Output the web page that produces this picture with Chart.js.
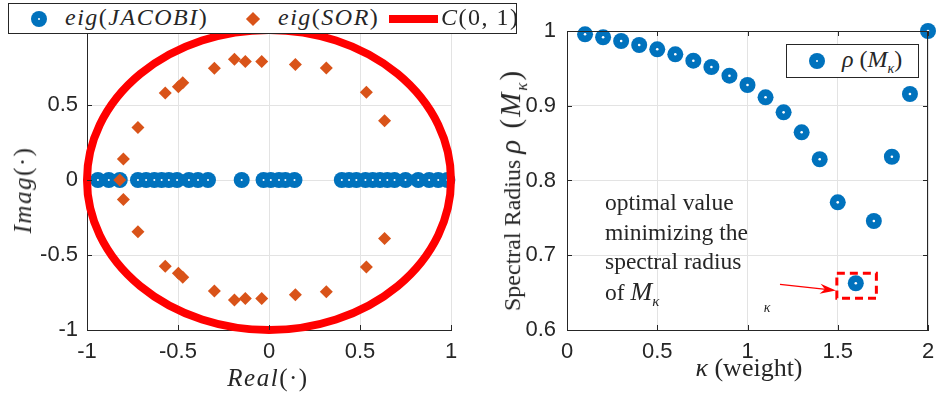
<!DOCTYPE html>
<html>
<head>
<meta charset="utf-8">
<script src="https://cdn.jsdelivr.net/npm/chart.js@4.4.1/dist/chart.umd.min.js"></script>
<style>
  body { margin: 0; background: #fff; width: 936px; height: 396px; overflow: hidden; position: relative; }
  canvas { position: absolute; top: 0; }
  .lbl { position: absolute; white-space: nowrap; color: #262626; font-family: "Liberation Serif", serif; }
  .ctr { transform: translate(-50%, -50%); }
  .rot { transform: translate(-50%, -50%) rotate(-90deg); }
  .it { font-style: italic; }
  .legend { position: absolute; background: #fff; border: 1px solid #262626; }
  .dot { position: absolute; width: 16px; height: 16px; border-radius: 50%; background: #0072BD; }
  .dot::after { content: ""; position: absolute; left: 7px; top: 7px; width: 2px; height: 2px; background: #fff; border-radius: 50%; }
  .m { letter-spacing: 1.5px; }
</style>
</head>
<body>
<canvas id="js--chart--1" width="468" height="396" style="left:0"></canvas>
<canvas id="js--chart--2" width="468" height="396" style="left:468px"></canvas>

<!-- legenda links -->
<div class="legend" style="left:8px;top:3px;width:507px;height:29px">
  <div class="dot" style="left:22px;top:7px"></div>
  <div class="lbl m" style="left:56px;top:0px;font-size:24px"><span class="it">eig</span>(<span class="it">JACOBI</span>)</div>
  <div style="position:absolute;left:239px;top:10px;width:10px;height:10px;background:#D95319;transform:rotate(45deg)"></div>
  <div class="lbl m" style="left:269px;top:0px;font-size:24px"><span class="it">eig</span>(<span class="it">SOR</span>)</div>
  <div style="position:absolute;left:380px;top:11px;width:49px;height:8px;background:#f00"></div>
  <div class="lbl m" style="left:432px;top:0px;font-size:24px"><span class="it">C</span>(0, 1)</div>
</div>

<!-- legenda rechts -->
<div class="legend" style="left:786px;top:44px;width:131px;height:32px">
  <div class="dot" style="left:22px;top:8px"></div>
  <div class="lbl" style="left:55px;top:1px;font-size:24px"><span class="it">ρ</span> (<span class="it">M<sub style="font-size:14px">κ</sub></span>)</div>
</div>

<!-- as titels -->
<div class="lbl rot m" style="left:23px;top:190px;font-size:25px"><span class="it">Imag</span>(·)</div>
<div class="lbl ctr m" style="left:268px;top:378px;font-size:25px"><span class="it">Real</span>(·)</div>
<div class="lbl ctr" style="left:749px;top:368px;font-size:26px"><span class="it">κ</span> (weight)</div>
<div class="lbl rot" style="left:513px;top:190px;font-size:24px">Spectral Radius <span style="font-size:29px;letter-spacing:2px"><span class="it">ρ</span> (<span class="it">M<sub style="font-size:17px">κ</sub></span>)</span></div>

<!-- annotatie -->
<div class="lbl" style="left:605px;top:188px;font-size:23.5px;line-height:29.5px">optimal value<br>minimizing the<br>spectral radius<br>of <span class="it" style="font-size:26px">M<sub style="font-size:15px">κ</sub></span></div>
<div class="lbl it ctr" style="left:767px;top:308px;font-size:14px">κ</div>

<script>
// eigenwaarden links
const jacobiReal = [-0.94, -0.88, -0.82, -0.72, -0.675, -0.63, -0.59, -0.55, -0.505, -0.44, -0.39, -0.335,
    -0.15, -0.03, 0.01, 0.055, 0.09, 0.14,
    0.40, 0.44, 0.48, 0.53, 0.57, 0.61, 0.65, 0.69, 0.75, 0.82, 0.88, 0.93, 0.98];
const jacobiImag = [0, 0, 0, 0, 0, 0, 0, 0, 0, 0, 0, 0,
    0, 0, 0, 0, 0, 0,
    0, 0, 0, 0, 0, 0, 0, 0, 0, 0, 0, 0, 0];

const sorReal = [-0.82,
    -0.80, -0.72, -0.57, -0.498, -0.474, -0.30, -0.19, -0.13, -0.04, 0.145, 0.315, 0.535, 0.635,
    -0.80, -0.72, -0.57, -0.498, -0.474, -0.30, -0.19, -0.13, -0.04, 0.145, 0.315, 0.535, 0.635];
const sorImag = [0,
    0.14, 0.35, 0.58, 0.622, 0.649, 0.745, 0.805, 0.79, 0.79, 0.77, 0.747, 0.585, 0.395,
    -0.13, -0.345, -0.575, -0.622, -0.649, -0.74, -0.80, -0.79, -0.79, -0.765, -0.745, -0.58, -0.39];

// eenheidscirkel C(0,1)
const circleCenter = [0, 0];
const circleRadius = 1;

// rechts: spectrale straal
const kappa = [0.1, 0.2, 0.3, 0.4, 0.5, 0.6, 0.7, 0.8, 0.9, 1.0,
    1.1, 1.2, 1.3, 1.4, 1.5, 1.6, 1.7, 1.8, 1.9, 2.0];
const rho = [0.9956, 0.9916, 0.9866, 0.9813, 0.9755, 0.9688, 0.9603, 0.9518, 0.9402, 0.9278,
    0.9113, 0.8912, 0.8645, 0.8284, 0.7708, 0.6625, 0.7458, 0.8318, 0.9157, 1.0];

const ticksLeftX = [-1, -0.5, 0, 0.5, 1];
const ticksRightX = [0, 0.5, 1, 1.5, 2];
const ticksRightY = [0.6, 0.7, 0.8, 0.9, 1];

// rode kader + pijl (in data coordinaten)
const boxX = [1.495, 1.714];
const boxY = [0.6424, 0.676];
const arrowFrom = [1.18, 0.661];
const arrowTo = [1.49, 0.653];

const blue = '#0072BD';
const orange = '#D95319';
const axisColor = '#262626';
const gridColor = '#e3e3e3';

function pts(xs, ys) {
    return xs.map((x, i) => ({x: x, y: ys[i]}));
}

const tickFont = {family: 'Liberation Sans', size: 22};

// kleine streepjes naar binnen, zoals matlab
function innerTicks(box) {
    return {
        id: 'innerTicks',
        afterDraw(chart) {
            const ctx = chart.ctx, a = chart.chartArea;
            const sx = chart.scales.x, sy = chart.scales.y;
            ctx.save();
            ctx.strokeStyle = axisColor;
            ctx.lineWidth = 1;
            ctx.beginPath();
            sx.ticks.forEach(t => {
                const p = Math.round(sx.getPixelForValue(t.value)) + 0.5;
                ctx.moveTo(p, a.bottom); ctx.lineTo(p, a.bottom - 5);
                if (box) { ctx.moveTo(p, a.top); ctx.lineTo(p, a.top + 5); }
            });
            sy.ticks.forEach(t => {
                const p = Math.round(sy.getPixelForValue(t.value)) + 0.5;
                ctx.moveTo(a.left, p); ctx.lineTo(a.left + 5, p);
                if (box) { ctx.moveTo(a.right, p); ctx.lineTo(a.right - 5, p); }
            });
            if (box) {
                ctx.moveTo(a.left, a.top + 0.5); ctx.lineTo(a.right, a.top + 0.5);
                ctx.moveTo(a.right - 0.5, a.top); ctx.lineTo(a.right - 0.5, a.bottom);
            }
            ctx.stroke();
            ctx.restore();
        }
    };
}

const circlePlugin = {
    id: 'circle',
    afterDatasetsDraw(chart) {
        const ctx = chart.ctx, sx = chart.scales.x, sy = chart.scales.y;
        const cx = sx.getPixelForValue(circleCenter[0]);
        const cy = sy.getPixelForValue(circleCenter[1]);
        const rx = sx.getPixelForValue(circleCenter[0] + circleRadius) - cx;
        const ry = cy - sy.getPixelForValue(circleCenter[1] + circleRadius);
        ctx.save();
        ctx.strokeStyle = '#ff0000';
        ctx.lineWidth = 8;
        ctx.beginPath();
        ctx.ellipse(cx, cy, rx, ry, 0, 0, Math.PI * 2);
        ctx.stroke();
        ctx.restore();
    }
};

const markPlugin = {
    id: 'mark',
    afterDatasetsDraw(chart) {
        const ctx = chart.ctx, sx = chart.scales.x, sy = chart.scales.y;
        ctx.save();
        ctx.strokeStyle = '#ff0000';
        ctx.fillStyle = '#ff0000';
        // gestippelde kader
        ctx.lineWidth = 3;
        ctx.setLineDash([8, 5]);
        const x0 = sx.getPixelForValue(boxX[0]), x1 = sx.getPixelForValue(boxX[1]);
        const y0 = sy.getPixelForValue(boxY[1]), y1 = sy.getPixelForValue(boxY[0]);
        ctx.strokeRect(x0, y0, x1 - x0, y1 - y0);
        // pijl
        ctx.setLineDash([]);
        ctx.lineWidth = 1.2;
        const ax = sx.getPixelForValue(arrowFrom[0]), ay = sy.getPixelForValue(arrowFrom[1]);
        const bx = sx.getPixelForValue(arrowTo[0]), by = sy.getPixelForValue(arrowTo[1]);
        const ang = Math.atan2(by - ay, bx - ax);
        ctx.beginPath();
        ctx.moveTo(ax, ay);
        ctx.lineTo(bx - 10 * Math.cos(ang), by - 10 * Math.sin(ang));
        ctx.stroke();
        ctx.beginPath();
        ctx.moveTo(bx, by);
        ctx.lineTo(bx - 16 * Math.cos(ang) + 5 * Math.sin(ang), by - 16 * Math.sin(ang) - 5 * Math.cos(ang));
        ctx.lineTo(bx - 11 * Math.cos(ang), by - 11 * Math.sin(ang));
        ctx.lineTo(bx - 16 * Math.cos(ang) - 5 * Math.sin(ang), by - 16 * Math.sin(ang) + 5 * Math.cos(ang));
        ctx.closePath();
        ctx.fill();
        ctx.restore();
    }
};

function fmt(v) {
    return String(+v.toFixed(2));
}

// geen extra ruimte voor de labels aan de randen
function fixX(s) {
    s.height = 66;
    s.paddingLeft = 0;
    s.paddingRight = 0;
}

const config1 = {
    type: 'scatter',
    data: {
        datasets: [
            {
                label: 'eig(SOR)',
                data: pts(sorReal, sorImag),
                pointStyle: 'rectRot',
                pointRadius: 6.5,
                backgroundColor: orange,
                borderColor: orange,
                borderWidth: 0,
                order: 0
            },
            {
                label: 'wit',
                data: pts(jacobiReal, jacobiImag),
                pointRadius: 1,
                backgroundColor: '#fff',
                borderWidth: 0,
                order: 1
            },
            {
                label: 'eig(JACOBI)',
                data: pts(jacobiReal, jacobiImag),
                pointRadius: 8,
                backgroundColor: blue,
                borderWidth: 0,
                order: 2
            }
        ]
    },
    options: {
        responsive: false,
        animation: false,
        devicePixelRatio: 1,
        clip: false,
        layout: {padding: {left: 0, right: 17, top: 30, bottom: 0}},
        plugins: {legend: {display: false}, tooltip: {enabled: false}},
        scales: {
            x: {
                type: 'linear', min: -1, max: 1,
                afterBuildTicks: s => { s.ticks = ticksLeftX.map(v => ({value: v})); },
                afterFit: fixX,
                grid: {color: gridColor, drawTicks: false},
                border: {color: axisColor},
                ticks: {font: tickFont, color: axisColor, padding: 9, callback: fmt}
            },
            y: {
                type: 'linear', min: -1, max: 1,
                afterBuildTicks: s => { s.ticks = ticksLeftX.map(v => ({value: v})); },
                afterFit: s => { s.width = 87; },
                grid: {color: gridColor, drawTicks: false},
                border: {color: axisColor},
                // label bij 1 valt achter de legenda
                ticks: {font: tickFont, color: axisColor, padding: 9, callback: v => v === 1 ? '' : fmt(v)}
            }
        }
    },
    plugins: [circlePlugin, innerTicks(false)]
};

const config2 = {
    type: 'scatter',
    data: {
        datasets: [
            {
                label: 'wit',
                data: pts(kappa, rho),
                pointRadius: 1.3,
                backgroundColor: '#fff',
                borderWidth: 0,
                order: 0
            },
            {
                label: 'rho(M_kappa)',
                data: pts(kappa, rho),
                pointRadius: 8,
                backgroundColor: blue,
                borderWidth: 0,
                order: 1
            }
        ]
    },
    options: {
        responsive: false,
        animation: false,
        devicePixelRatio: 1,
        clip: false,
        layout: {padding: {left: 0, right: 5, top: 31, bottom: 0}},
        plugins: {legend: {display: false}, tooltip: {enabled: false}},
        scales: {
            x: {
                type: 'linear', min: 0, max: 2,
                afterBuildTicks: s => { s.ticks = ticksRightX.map(v => ({value: v})); },
                afterFit: fixX,
                grid: {color: gridColor, drawTicks: false},
                border: {color: axisColor},
                ticks: {font: tickFont, color: axisColor, padding: 9, callback: fmt}
            },
            y: {
                type: 'linear', min: 0.6, max: 1,
                afterBuildTicks: s => { s.ticks = ticksRightY.map(v => ({value: v})); },
                afterFit: s => { s.width = 99; },
                grid: {color: gridColor, drawTicks: false},
                border: {color: axisColor},
                ticks: {font: tickFont, color: axisColor, padding: 11, callback: fmt}
            }
        }
    },
    plugins: [markPlugin, innerTicks(true)]
};

new Chart(document.getElementById("js--chart--1"), config1);
new Chart(document.getElementById("js--chart--2"), config2);
</script>
</body>
</html>
